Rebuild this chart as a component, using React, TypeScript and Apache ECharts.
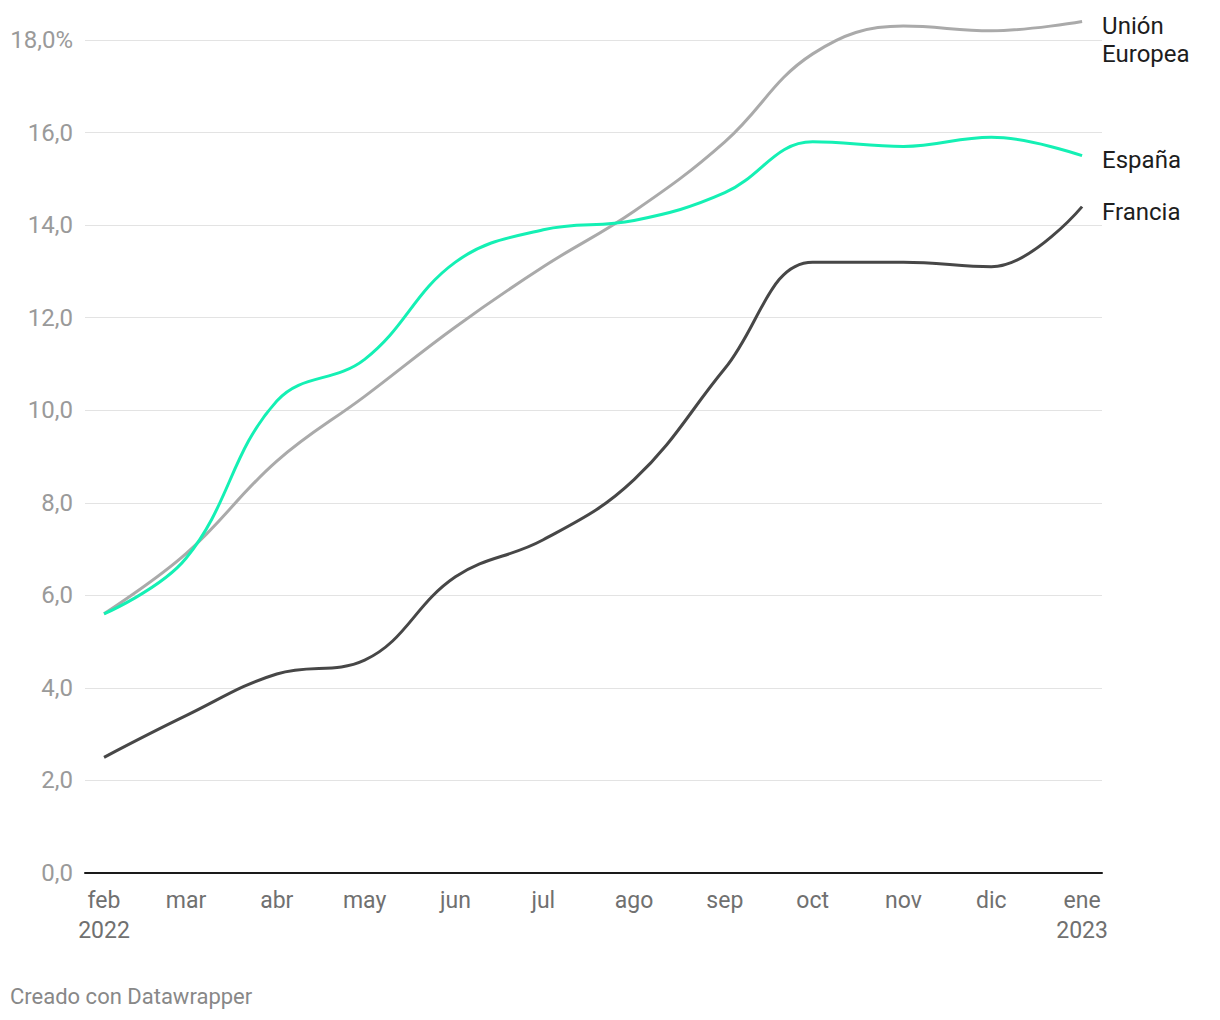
import React, { useEffect, useRef } from "react";
import * as echarts from "echarts";

const monthDates = ["2022-02-01", "2022-03-01", "2022-04-01", "2022-05-01", "2022-06-01", "2022-07-01", "2022-08-01", "2022-09-01", "2022-10-01", "2022-11-01", "2022-12-01", "2023-01-01"];
const monthLabels = ["feb\n2022", "mar", "abr", "may", "jun", "jul", "ago", "sep", "oct", "nov", "dic", "ene\n2023"];
const ue = [5.6, 6.9, 8.9, 10.3, 11.8, 13.1, 14.3, 15.8, 17.7, 18.3, 18.2, 18.4];
const espana = [5.6, 6.8, 10.2, 11.1, 13.2, 13.9, 14.1, 14.7, 15.8, 15.7, 15.9, 15.5];
const francia = [2.5, 3.4, 4.3, 4.6, 6.4, 7.2, 8.5, 10.9, 13.2, 13.2, 13.1, 14.4];
const yTicks = [0, 2, 4, 6, 8, 10, 12, 14, 16, 18];

const FONT = "Roboto, 'Noto Sans', sans-serif";
const DAY = 86400000;

export default function App() {
  const ref = useRef<HTMLDivElement>(null);
  useEffect(() => {
    document.body.style.margin = "0";
    const chart = echarts.init(ref.current!, undefined, { renderer: "svg" });
    const t0 = Date.parse(monthDates[0] + "T00:00:00Z");
    const days = monthDates.map((d) => Math.round((Date.parse(d + "T00:00:00Z") - t0) / DAY));
    const pts = (arr: number[]) => arr.map((v, i) => [days[i], v]);
    const mkSeries = (name: string, data: number[], color: string, labelText: string, dy: number) => ({
      name,
      type: "line",
      data: pts(data),
      smooth: 0.4,
      symbol: "none",
      clip: false,
      lineStyle: { color, width: 3 },
      endLabel: {
        show: true,
        formatter: labelText,
        color: "#1d1d1d",
        fontFamily: FONT,
        fontSize: 24,
        lineHeight: 28,
        align: "left",
        verticalAlign: "middle",
        distance: 0,
        offset: [20, dy],
      },
      z: 3,
    });
    chart.setOption({
      animation: false,
      textStyle: { fontFamily: FONT },
      grid: { left: 85, right: 118, top: 40, bottom: 147 },
      xAxis: {
        type: "value",
        min: days[0] - 6.5,
        max: days[days.length - 1] + 6.8,
        axisLine: { show: true, onZero: false, lineStyle: { color: "#1a1a1a", width: 2 } },
        axisTick: { show: false },
        splitLine: { show: false },
        axisLabel: {
          show: true,
          customValues: days,
          formatter: (v: number) => {
            const idx = days.findIndex((d) => Math.abs(d - v) < 0.5);
            return idx >= 0 ? monthLabels[idx] : "";
          },
          color: "#707070",
          fontSize: 23,
          lineHeight: 30,
          margin: 12,
          fontFamily: FONT,
        },
      },
      yAxis: {
        type: "value",
        min: 0,
        max: 18,
        interval: 2,
        axisLine: { show: false },
        axisTick: { show: false },
        splitLine: { show: true, lineStyle: { color: "#e3e3e3", width: 1 } },
        axisLabel: {
          color: "#9a9a9a",
          fontSize: 24,
          margin: 12,
          fontFamily: FONT,
          formatter: (v: number) => {
            const s = v.toFixed(1).replace(".", ",");
            return v === yTicks[yTicks.length - 1] ? s + "%" : s;
          },
        },
      },
      series: [
        mkSeries("Unión Europea", ue, "#aaaaaa", "Unión\nEuropea", 19),
        mkSeries("España", espana, "#14f0b4", "España", 4),
        mkSeries("Francia", francia, "#474747", "Francia", 5),
      ],
      graphic: [
        {
          type: "text",
          left: 10,
          top: 985,
          style: { text: "Creado con Datawrapper", fill: "#888888", fontSize: 22, fontFamily: FONT },
        },
      ],
    });
    return () => chart.dispose();
  }, []);
  return <div ref={ref} style={{ width: 1220, height: 1020 }} />;
}
